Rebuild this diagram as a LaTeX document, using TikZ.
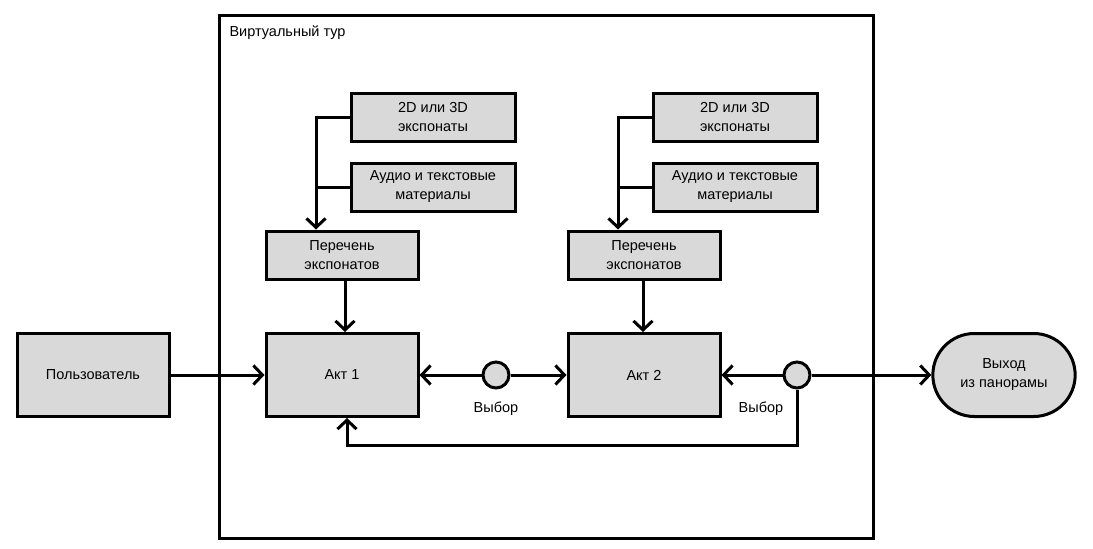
\documentclass[tikz,border=0pt]{standalone}
\usepackage{fontspec}
\setmainfont{Liberation Sans}
\usetikzlibrary{arrows.meta}
\usetikzlibrary{shapes.misc}
\definecolor{boxgray}{RGB}{217,217,217}

\tikzset{
    block/.style={draw, line width=3pt, fill=boxgray, align=center,
        minimum width=152pt, minimum height=83pt, font=\fontsize{14.5}{19}\selectfont},
    smallblock/.style={block, minimum height=48pt},
    sideblock/.style={block, minimum width=164pt, minimum height=48pt},
    choice/.style={draw, circle, line width=3pt, fill=boxgray, minimum size=26pt, inner sep=0pt},
    link/.style={line width=3pt},
    txt/.style={font=\fontsize{14.5}{19}\selectfont},
}

\begin{document}
\begin{tikzpicture}[x=1pt, y=-1pt, >={Straight Barb[length=9pt,width=19pt]}]
    \useasboundingbox (0,0) rectangle (1093,549);

    % frame
    \draw[line width=3pt] (219,15) rectangle (873,538);
    \node[txt, anchor=west] (tour) at (226,33) {Виртуальный тур};

    % main row
    \node[block] (user) at (93,375) {Пользователь};
    \node[block] (act1) at (342,375) {Акт 1};
    \node[block] (act2) at (644,375) {Акт 2};
    \node[choice] (ch1) at (496,375) {};
    \node[choice] (ch2) at (797,375) {};
    \node[txt] (ch1lbl) at (496,409) {Выбор};
    \node[txt] (ch2lbl) at (761,409) {Выбор};
    \node[draw, rounded rectangle, line width=3pt, fill=boxgray, align=center,
        minimum width=149pt, minimum height=83pt, font=\fontsize{14.5}{19}\selectfont]
        (exit) at (1004,375) {Выход\\из панорамы};

    % act 1 materials
    \node[smallblock] (listA) at (342,255) {Перечень\\экспонатов};
    \node[sideblock] (objA) at (433,117) {2D или 3D\\экспонаты};
    \node[sideblock] (audA) at (433,187) {Аудио и текстовые\\материалы};

    % act 2 materials
    \node[smallblock] (listB) at (644,255) {Перечень\\экспонатов};
    \node[sideblock] (objB) at (735,117) {2D или 3D\\экспонаты};
    \node[sideblock] (audB) at (735,187) {Аудио и текстовые\\материалы};

    % connectors
    \draw[link, ->] (objA.west) -| ([xshift=-26pt]listA.north);
    \draw[link] (audA.west) -- ++(-35,0);
    \draw[link, ->] (objB.west) -| ([xshift=-26pt]listB.north);
    \draw[link] (audB.west) -- ++(-35,0);

    \draw[link, ->] ([xshift=3pt]listA.south) -- ([xshift=3pt]act1.north);
    \draw[link, ->] ([xshift=-1pt]listB.south) -- ([xshift=-1pt]act2.north);

    \draw[link, ->] (user) -- (act1);
    \draw[link, ->] (ch1) -- (act1);
    \draw[link, ->] (ch1) -- (act2);
    \draw[link, ->] (ch2) -- (act2);
    \draw[link, ->] (ch2) -- (exit);
    \draw[link, ->] (ch2.south) |- (597,445) -| ([xshift=5pt]act1.south);
\end{tikzpicture}
\end{document}
